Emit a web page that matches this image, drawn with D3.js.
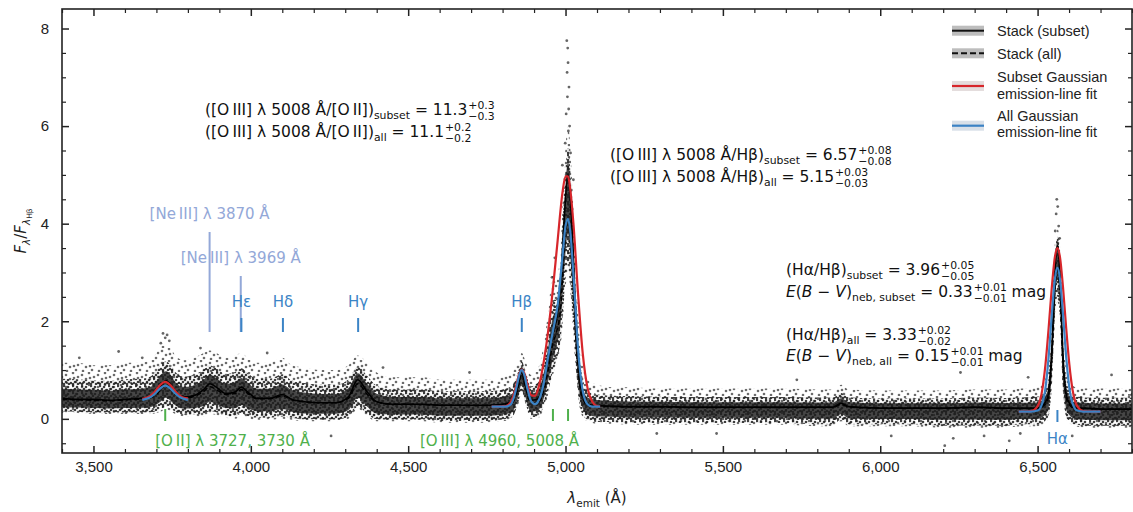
<!DOCTYPE html>
<meta charset="utf-8">
<style>
    body { margin: 0; background: #fff; }
    svg { display: block; }
    .axis path { display: none; }
    .axis line { stroke: #222; }
    .axis text { font-family: "Liberation Sans", Arial, sans-serif; font-size: 15px; fill: #222; }
    .math { font-family: "DejaVu Sans", sans-serif; }
    .legend text { font-family: "Liberation Sans", Arial, sans-serif; font-size: 14.5px; fill: #222; }
</style>
<body>
<div id="chart"></div>
<script src="https://cdnjs.cloudflare.com/ajax/libs/d3/7.8.5/d3.min.js"></script>
<script>
    // stacked spectrum (rest-frame wavelength in Angstrom)
    var wave = [3400, 3450, 3500, 3550, 3600, 3650, 3680, 3700, 3715, 3730, 3745, 3760, 3790, 3820, 3850, 3870, 3890, 3920, 3950, 3970,
        3990, 4020, 4060, 4100, 4130, 4170, 4220, 4270, 4310, 4340, 4370, 4400, 4450, 4500, 4550, 4600, 4650, 4700, 4750, 4800,
        4830, 4850, 4861, 4872, 4890, 4910, 4930, 4945, 4960, 4970, 4985, 4995, 5008, 5020, 5035, 5050, 5070, 5100, 5150, 5200,
        5300, 5400, 5500, 5600, 5700, 5800, 5850, 5876, 5900, 6000, 6100, 6200, 6300, 6400, 6450, 6500, 6530, 6545, 6555, 6563,
        6571, 6580, 6595, 6620, 6650, 6700, 6750, 6800];
    var stackSubset = [0.42, 0.40, 0.40, 0.38, 0.40, 0.42, 0.45, 0.55, 0.68, 0.78, 0.70, 0.55, 0.45, 0.48, 0.60, 0.72, 0.65, 0.52, 0.55, 0.65,
        0.55, 0.42, 0.42, 0.50, 0.40, 0.35, 0.33, 0.33, 0.45, 0.80, 0.55, 0.35, 0.30, 0.30, 0.30, 0.28, 0.28, 0.28, 0.28, 0.30,
        0.35, 0.70, 0.98, 0.70, 0.38, 0.40, 0.70, 1.20, 1.75, 2.00, 2.80, 4.00, 5.00, 4.00, 1.80, 0.60, 0.30, 0.27, 0.26, 0.25,
        0.25, 0.24, 0.24, 0.24, 0.24, 0.24, 0.24, 0.32, 0.25, 0.22, 0.22, 0.22, 0.24, 0.22, 0.22, 0.22, 0.40, 1.40, 3.00, 3.55,
        3.00, 1.40, 0.40, 0.22, 0.22, 0.20, 0.20, 0.20];
    var stackAll = [0.40, 0.39, 0.38, 0.37, 0.39, 0.40, 0.43, 0.50, 0.60, 0.68, 0.62, 0.50, 0.43, 0.46, 0.56, 0.66, 0.60, 0.50, 0.52, 0.60,
        0.52, 0.41, 0.41, 0.47, 0.39, 0.35, 0.33, 0.33, 0.42, 0.72, 0.50, 0.34, 0.30, 0.30, 0.29, 0.28, 0.28, 0.27, 0.27, 0.28,
        0.32, 0.65, 0.95, 0.65, 0.33, 0.32, 0.55, 1.00, 1.55, 1.75, 2.30, 3.40, 4.10, 3.20, 1.40, 0.50, 0.28, 0.26, 0.25, 0.24,
        0.24, 0.23, 0.23, 0.23, 0.23, 0.23, 0.23, 0.30, 0.24, 0.22, 0.22, 0.21, 0.23, 0.21, 0.21, 0.21, 0.35, 1.20, 2.60, 3.10,
        2.60, 1.20, 0.35, 0.21, 0.21, 0.20, 0.20, 0.20];
    // envelope of the individual spectra points
    var scatterLo = [0.12, 0.12, 0.10, 0.10, 0.10, 0.10, 0.10, 0.12, 0.15, 0.20, 0.15, 0.10, 0.05, 0.05, 0.05, 0.10, 0.08, 0.02, 0.00, 0.05,
        0.00, -0.02, -0.02, 0.00, -0.02, -0.05, -0.05, -0.05, 0.00, 0.20, 0.05, -0.05, -0.05, -0.05, -0.05, -0.08, -0.08, -0.08, -0.08, -0.05,
        0.00, 0.30, 0.55, 0.30, 0.00, 0.00, 0.20, 0.50, 0.90, 1.10, 1.50, 2.30, 3.00, 2.20, 0.80, 0.10, -0.05, -0.10, -0.10, -0.12,
        -0.12, -0.12, -0.12, -0.12, -0.12, -0.15, -0.15, -0.05, -0.15, -0.15, -0.15, -0.18, -0.18, -0.18, -0.15, -0.15, -0.05, 0.60, 2.00, 2.40,
        2.00, 0.60, -0.05, -0.15, -0.18, -0.18, -0.18, -0.18];
    var scatterHi = [1.15, 1.15, 1.10, 1.10, 1.15, 1.15, 1.20, 1.35, 1.50, 1.50, 1.45, 1.30, 1.20, 1.25, 1.35, 1.40, 1.35, 1.25, 1.30, 1.35,
        1.25, 1.15, 1.15, 1.25, 1.10, 1.05, 1.00, 1.00, 1.10, 1.30, 1.15, 0.95, 0.85, 0.85, 0.85, 0.80, 0.80, 0.80, 0.80, 0.85,
        0.95, 1.20, 1.35, 1.20, 0.90, 1.00, 1.50, 2.20, 3.00, 2.80, 3.60, 5.00, 6.00, 5.00, 2.80, 1.30, 0.80, 0.70, 0.65, 0.65,
        0.62, 0.62, 0.62, 0.62, 0.62, 0.60, 0.60, 0.70, 0.60, 0.58, 0.58, 0.58, 0.60, 0.60, 0.62, 0.65, 0.90, 2.00, 3.60, 3.90,
        3.60, 2.00, 0.90, 0.65, 0.62, 0.62, 0.62, 0.62];
    // isolated points outside the envelope
    var outlierWave = [5004, 5007, 5010, 5002, 5013, 4999, 5016, 5005, 5011, 5008, 5006, 5009, 4966, 4957, 4990, 5025,
        6561, 6564, 6559, 6567, 6556, 6570, 3721, 3734, 3728, 3741, 3714,
        3580, 3655, 3840, 4052, 4255, 4420, 4695, 5290, 5480, 5735, 6035, 6205, 6232, 6330, 6410, 6445, 6470, 6735, 6255, 6610, 3455];
    var outlierFlux = [7.75, 7.6, 6.35, 6.25, 6.0, 5.65, 5.45, 7.1, 6.8, 7.3, 6.6, 5.9, 3.3, 2.9, 5.2, 4.9,
        4.5, 4.35, 4.2, 3.95, 3.85, 3.7, 1.75, 1.72, 1.66, 1.6, 1.55,
        1.38, 1.25, 1.45, 1.35, -0.35, 1.05, 0.95, -0.3, -0.3, 0.8, -0.35, -0.55, -0.4, -0.35, -0.45, -0.3, 0.85, 0.9, 0.95, -0.35, 1.25];

    // Gaussian emission-line fits, sampled off the figure
    var fitOIIWave = [3655, 3668, 3683, 3698, 3713, 3728, 3743, 3758, 3773, 3788, 3800];
    var fitOIISubset = [0.41, 0.43, 0.48, 0.58, 0.70, 0.76, 0.70, 0.58, 0.48, 0.43, 0.42];
    var fitOIIAll = [0.39, 0.41, 0.45, 0.53, 0.63, 0.68, 0.63, 0.53, 0.45, 0.41, 0.39];
    var fitOIIIWave = [4765, 4810, 4825, 4835, 4845, 4853, 4861, 4869, 4877, 4890, 4903, 4915, 4930, 4945, 4960, 4975, 4990, 5000, 5008,
        5015, 5025, 5040, 5055, 5070, 5085, 5100, 5110];
    var fitOIIISubset = [0.25, 0.26, 0.33, 0.48, 0.73, 0.92, 1.01, 0.93, 0.75, 0.49, 0.47, 0.66, 1.14, 1.81, 2.67, 3.66, 4.62, 4.97, 4.97,
        4.71, 4.01, 2.54, 1.32, 0.63, 0.35, 0.26, 0.25];
    var fitOIIIAll = [0.25, 0.25, 0.29, 0.42, 0.67, 0.90, 1.00, 0.90, 0.67, 0.37, 0.30, 0.38, 0.71, 1.28, 1.80, 2.33, 3.31, 3.95, 4.10,
        3.84, 2.97, 1.42, 0.56, 0.30, 0.25, 0.25, 0.25];
    var fitHaWave = [6440, 6480, 6500, 6515, 6525, 6535, 6545, 6555, 6563, 6571, 6581, 6591, 6601, 6611, 6626, 6645, 6700];
    var fitHaSubset = [0.15, 0.16, 0.26, 0.60, 1.11, 1.85, 2.68, 3.32, 3.50, 3.32, 2.68, 1.85, 1.11, 0.60, 0.26, 0.16, 0.15];
    var fitHaAll = [0.15, 0.15, 0.17, 0.32, 0.63, 1.26, 2.12, 2.87, 3.10, 2.87, 2.12, 1.26, 0.63, 0.32, 0.17, 0.15, 0.15];

    // line identifications
    var neNames = ["[Ne\u2009III] \u03bb 3870 \u00c5", "[Ne\u2009III] \u03bb 3969 \u00c5"];
    var neWaves = [3869, 3968];
    var balmerNames = ["H\u03b5", "H\u03b4", "H\u03b3", "H\u03b2"];
    var balmerWaves = [3970, 4102, 4341, 4861];
    var oxygenWaves = [3728, 4960, 5008];
    var oxygenNames = ["[O\u2009II] \u03bb 3727, 3730 \u00c5", "[O\u2009III] \u03bb 4960, 5008 \u00c5"];

    // measured ratios
    var ratioNames = ["([O\u2009III] \u03bb 5008 \u00c5/[O\u2009II])_{subset}", "([O\u2009III] \u03bb 5008 \u00c5/[O\u2009II])_{all}",
        "([O\u2009III] \u03bb 5008 \u00c5/H\u03b2)_{subset}", "([O\u2009III] \u03bb 5008 \u00c5/H\u03b2)_{all}",
        "(H\u03b1/H\u03b2)_{subset}", "*E*(*B* \u2212 *V*)_{neb, subset}",
        "(H\u03b1/H\u03b2)_{all}", "*E*(*B* \u2212 *V*)_{neb, all}"];
    var ratioValues = ["11.3", "11.1", "6.57", "5.15", "3.96", "0.33", "3.33", "0.15"];
    var ratioErrUp = ["+0.3", "+0.2", "+0.08", "+0.03", "+0.05", "+0.01", "+0.02", "+0.01"];
    var ratioErrLo = ["\u22120.3", "\u22120.2", "\u22120.08", "\u22120.03", "\u22120.05", "\u22120.01", "\u22120.02", "\u22120.01"];
    var ratioUnits = ["", "", "", "", "", "mag", "", "mag"];

    var legendLabels = [["Stack (subset)"], ["Stack (all)"], ["Subset Gaussian", "emission-line fit"], ["All Gaussian", "emission-line fit"]];
    var xMajor = [3500, 4000, 4500, 5000, 5500, 6000, 6500];
    var yMajor = [0, 2, 4, 6, 8];

    var width = 1133, height = 512;
    var red = "#d7262b", blue = "#3b82c4", green = "#4fb04c", neColor = "#93a8d8", hColor = "#3b84c6";

    var svg = d3.select("#chart").append("svg").attr("width", width).attr("height", height);
    var xScale = d3.scaleLinear().domain([3400, 6800]).range([62, 1132]);
    var yScale = d3.scaleLinear().domain([-0.7, 8.4]).range([453, 9]);

    var defs = svg.append("defs");
    defs.append("clipPath").attr("id", "plot-clip").append("rect")
        .attr("x", 62).attr("y", 9).attr("width", 1070).attr("height", 444);
    // speckle textures for the cloud of individual points
    function speckle(id, w, h, dots, fill, op) {
        var p = defs.append("pattern").attr("id", id).attr("patternUnits", "userSpaceOnUse")
            .attr("width", w).attr("height", h);
        dots.forEach(function(d) {
            p.append("circle").attr("cx", d[0]).attr("cy", d[1]).attr("r", 1.3).attr("fill", fill).attr("fill-opacity", op);
        });
    }
    speckle("sparse", 16, 12, [[2, 3], [9, 1], [14, 5], [6, 7], [12, 10], [3, 11], [10, 6]], "#2e2e2e", 0.7);
    speckle("dense", 9, 7, [[1, 1], [5, 2], [8, 5], [3, 4], [6, 6], [1, 6]], "#1c1c1c", 0.85);

    var spec = wave.map(function(w, i) {
        return { w: w, s: stackSubset[i], a: stackAll[i], lo: scatterLo[i], hi: scatterHi[i] };
    });

    var plot = svg.append("g").attr("clip-path", "url(#plot-clip)");

    // cloud: sparse outer band, denser middle band, dark core
    plot.append("path").datum(spec)
        .attr("d", d3.area().curve(d3.curveMonotoneX).x(d => xScale(d.w)).y0(d => yScale(d.lo)).y1(d => yScale(d.hi)))
        .attr("fill", "url(#sparse)");
    plot.append("path").datum(spec)
        .attr("d", d3.area().curve(d3.curveMonotoneX).x(d => xScale(d.w))
            .y0(d => yScale(d.s - (d.s - d.lo) * 0.9)).y1(d => yScale(d.s + (d.hi - d.s) * 0.55)))
        .attr("fill", "url(#dense)");
    plot.append("path").datum(spec)
        .attr("d", d3.area().curve(d3.curveMonotoneX).x(d => xScale(d.w))
            .y0(d => yScale(d.s - (d.s - d.lo) * 0.6)).y1(d => yScale(d.s + (d.hi - d.s) * 0.27)))
        .attr("fill", "#1e1e1e").attr("fill-opacity", 0.82);

    plot.selectAll("circle.out").data(outlierWave).enter().append("circle")
        .attr("class", "out")
        .attr("cx", d => xScale(d))
        .attr("cy", (d, i) => yScale(outlierFlux[i]))
        .attr("r", 1.4).attr("fill", "#333").attr("fill-opacity", 0.75);

    // stacked spectra
    var stackLine = d3.line().curve(d3.curveMonotoneX).x(d => xScale(d.w));
    plot.append("path").datum(spec).attr("d", stackLine.y(d => yScale(d.a)))
        .attr("fill", "none").attr("stroke", "#000").attr("stroke-width", 1.4).attr("stroke-dasharray", "5,3");
    plot.append("path").datum(spec).attr("d", stackLine.y(d => yScale(d.s)))
        .attr("fill", "none").attr("stroke", "#000").attr("stroke-width", 1.6);

    // fits
    function fit(ws, vs, color) {
        plot.append("path").datum(ws.map((w, i) => [w, vs[i]]))
            .attr("d", d3.line().curve(d3.curveMonotoneX).x(d => xScale(d[0])).y(d => yScale(d[1])))
            .attr("fill", "none").attr("stroke", color).attr("stroke-width", 2.2);
    }
    fit(fitOIIWave, fitOIISubset, red);
    fit(fitOIIIWave, fitOIIISubset, red);
    fit(fitHaWave, fitHaSubset, red);
    fit(fitOIIWave, fitOIIAll, blue);
    fit(fitOIIIWave, fitOIIIAll, blue);
    fit(fitHaWave, fitHaAll, blue);

    // line markers and labels
    var marks = svg.append("g").attr("class", "math").attr("font-size", 15).attr("text-anchor", "middle");
    function tick(x, y0, y1, color) {
        marks.append("line").attr("x1", x).attr("x2", x).attr("y1", y0).attr("y2", y1)
            .attr("stroke", color).attr("stroke-width", 2);
    }
    var neTop = [232, 276], neBase = [219, 263];
    neWaves.forEach(function(w, i) {
        tick(xScale(w), neTop[i], 332, neColor);
        marks.append("text").attr("x", xScale(w)).attr("y", neBase[i]).attr("fill", neColor).text(neNames[i]);
    });
    balmerWaves.forEach(function(w, i) {
        tick(xScale(w), 318, 332, hColor);
        marks.append("text").attr("x", xScale(w)).attr("y", 307).attr("fill", hColor).text(balmerNames[i]);
    });
    tick(xScale(6563), 410, 422, hColor);
    marks.append("text").attr("x", xScale(6563)).attr("y", 444).attr("fill", hColor).text("H\u03b1");
    oxygenWaves.forEach(function(w) { tick(xScale(w), 409, 421, green); });
    marks.append("text").attr("x", xScale(3728) - 10).attr("y", 446).attr("text-anchor", "start")
        .attr("fill", green).text(oxygenNames[0]);
    marks.append("text").attr("x", xScale(5008) + 11).attr("y", 446).attr("text-anchor", "end")
        .attr("fill", green).text(oxygenNames[1]);

    // rich text: _{sub} and *italic*
    function rich(g, x, y, str, size) {
        var t = g.append("text").attr("x", x).attr("y", y).attr("font-size", size);
        var shift = 0;
        str.split(/(_\{[^}]*\}|\*[^*]*\*)/).filter(s => s.length).forEach(function(p) {
            var ts = t.append("tspan");
            if (p.indexOf("_{") === 0) {
                ts.text(p.slice(2, -1)).attr("font-size", size * 0.7).attr("dy", size * 0.28 - shift);
                shift = size * 0.28;
            } else {
                if (p[0] === "*") { ts.attr("font-style", "italic"); p = p.slice(1, -1); }
                ts.text(p).attr("dy", -shift);
                shift = 0;
            }
        });
        return t;
    }

    var notes = svg.append("g").attr("class", "math").attr("fill", "#111");
    var notePos = [[205, 115], [205, 137], [610, 160], [610, 182], [786, 275], [786, 297], [786, 340], [786, 361]];
    var fs = 15.5;
    ratioNames.forEach(function(name, i) {
        var x = notePos[i][0], y = notePos[i][1];
        var t = rich(notes, x, y, name + " = " + ratioValues[i], fs);
        var ex = x + t.node().getComputedTextLength() + 1;
        var up = notes.append("text").attr("x", ex).attr("y", y - fs * 0.4).attr("font-size", fs * 0.7).text(ratioErrUp[i]);
        var lo = notes.append("text").attr("x", ex).attr("y", y + fs * 0.3).attr("font-size", fs * 0.7).text(ratioErrLo[i]);
        if (ratioUnits[i]) {
            var ew = Math.max(up.node().getComputedTextLength(), lo.node().getComputedTextLength());
            notes.append("text").attr("x", ex + ew + fs * 0.3).attr("y", y).attr("font-size", fs).text(ratioUnits[i]);
        }
    });

    // axes, ticks inward on all four sides
    var xMinor = d3.range(3400, 6801, 100).filter(d => xMajor.indexOf(d) < 0);
    var yMinor = d3.range(-0.5, 8.01, 0.5).filter(d => yMajor.indexOf(d) < 0);
    function addAxis(axis, tr, lw) {
        svg.append("g").attr("class", "axis").attr("transform", tr).call(axis)
            .selectAll("line").attr("stroke-width", lw);
    }
    addAxis(d3.axisBottom(xScale).tickValues(xMajor).tickSize(-7).tickPadding(8).tickFormat(d3.format(",")), "translate(0,453)", 1.5);
    addAxis(d3.axisBottom(xScale).tickValues(xMinor).tickSize(-4).tickFormat(""), "translate(0,453)", 1.2);
    addAxis(d3.axisTop(xScale).tickValues(xMajor).tickSize(-7).tickFormat(""), "translate(0,9)", 1.5);
    addAxis(d3.axisTop(xScale).tickValues(xMinor).tickSize(-4).tickFormat(""), "translate(0,9)", 1.2);
    addAxis(d3.axisLeft(yScale).tickValues(yMajor).tickSize(-7).tickPadding(13), "translate(62,0)", 1.5);
    addAxis(d3.axisLeft(yScale).tickValues(yMinor).tickSize(-4).tickFormat(""), "translate(62,0)", 1.2);
    addAxis(d3.axisRight(yScale).tickValues(yMajor).tickSize(-7).tickFormat(""), "translate(1132,0)", 1.5);
    addAxis(d3.axisRight(yScale).tickValues(yMinor).tickSize(-4).tickFormat(""), "translate(1132,0)", 1.2);
    svg.append("rect").attr("x", 62).attr("y", 9).attr("width", 1070).attr("height", 444)
        .attr("fill", "none").attr("stroke", "#222").attr("stroke-width", 1.6);

    // axis titles
    var xt = svg.append("text").attr("class", "math").attr("x", 597).attr("y", 503)
        .attr("text-anchor", "middle").attr("font-size", 15).attr("fill", "#222");
    xt.append("tspan").attr("font-style", "italic").text("\u03bb");
    xt.append("tspan").attr("font-size", 10.5).attr("dy", 4).text("emit");
    xt.append("tspan").attr("dy", -4).text(" (\u00c5)");
    var yt = svg.append("text").attr("class", "math").attr("transform", "translate(26,231) rotate(-90)")
        .attr("text-anchor", "middle").attr("font-size", 15).attr("fill", "#222");
    yt.append("tspan").attr("font-style", "italic").text("F");
    yt.append("tspan").attr("font-style", "italic").attr("font-size", 10.5).attr("dy", 4).text("\u03bb");
    yt.append("tspan").attr("dy", -4).text("/");
    yt.append("tspan").attr("font-style", "italic").text("F");
    yt.append("tspan").attr("font-style", "italic").attr("font-size", 10.5).attr("dy", 4).text("\u03bb");
    yt.append("tspan").attr("font-size", 7.5).attr("dy", 2).text("H\u03b2");

    // legend
    var legend = svg.append("g").attr("class", "legend");
    var swatchY = [30.7, 53.3, 86, 125.7];
    var bandFill = ["#bdbdbd", "#bdbdbd", "#e4dddd", "#d9e0e8"];
    var lineColor = ["#111", "#111", red, blue];
    var textBase = [[36], [58.5], [82, 98.5], [120.5, 137]];
    legendLabels.forEach(function(lines, i) {
        legend.append("rect").attr("x", 952).attr("y", swatchY[i] - 5).attr("width", 32).attr("height", 10).attr("fill", bandFill[i]);
        legend.append("line").attr("x1", 952).attr("x2", 984).attr("y1", swatchY[i]).attr("y2", swatchY[i])
            .attr("stroke", lineColor[i]).attr("stroke-width", i < 2 ? 2 : 2.2)
            .attr("stroke-dasharray", i === 1 ? "6,3" : null);
        lines.forEach(function(s, j) {
            legend.append("text").attr("x", 997).attr("y", textBase[i][j]).text(s);
        });
    });
</script>
</body>
